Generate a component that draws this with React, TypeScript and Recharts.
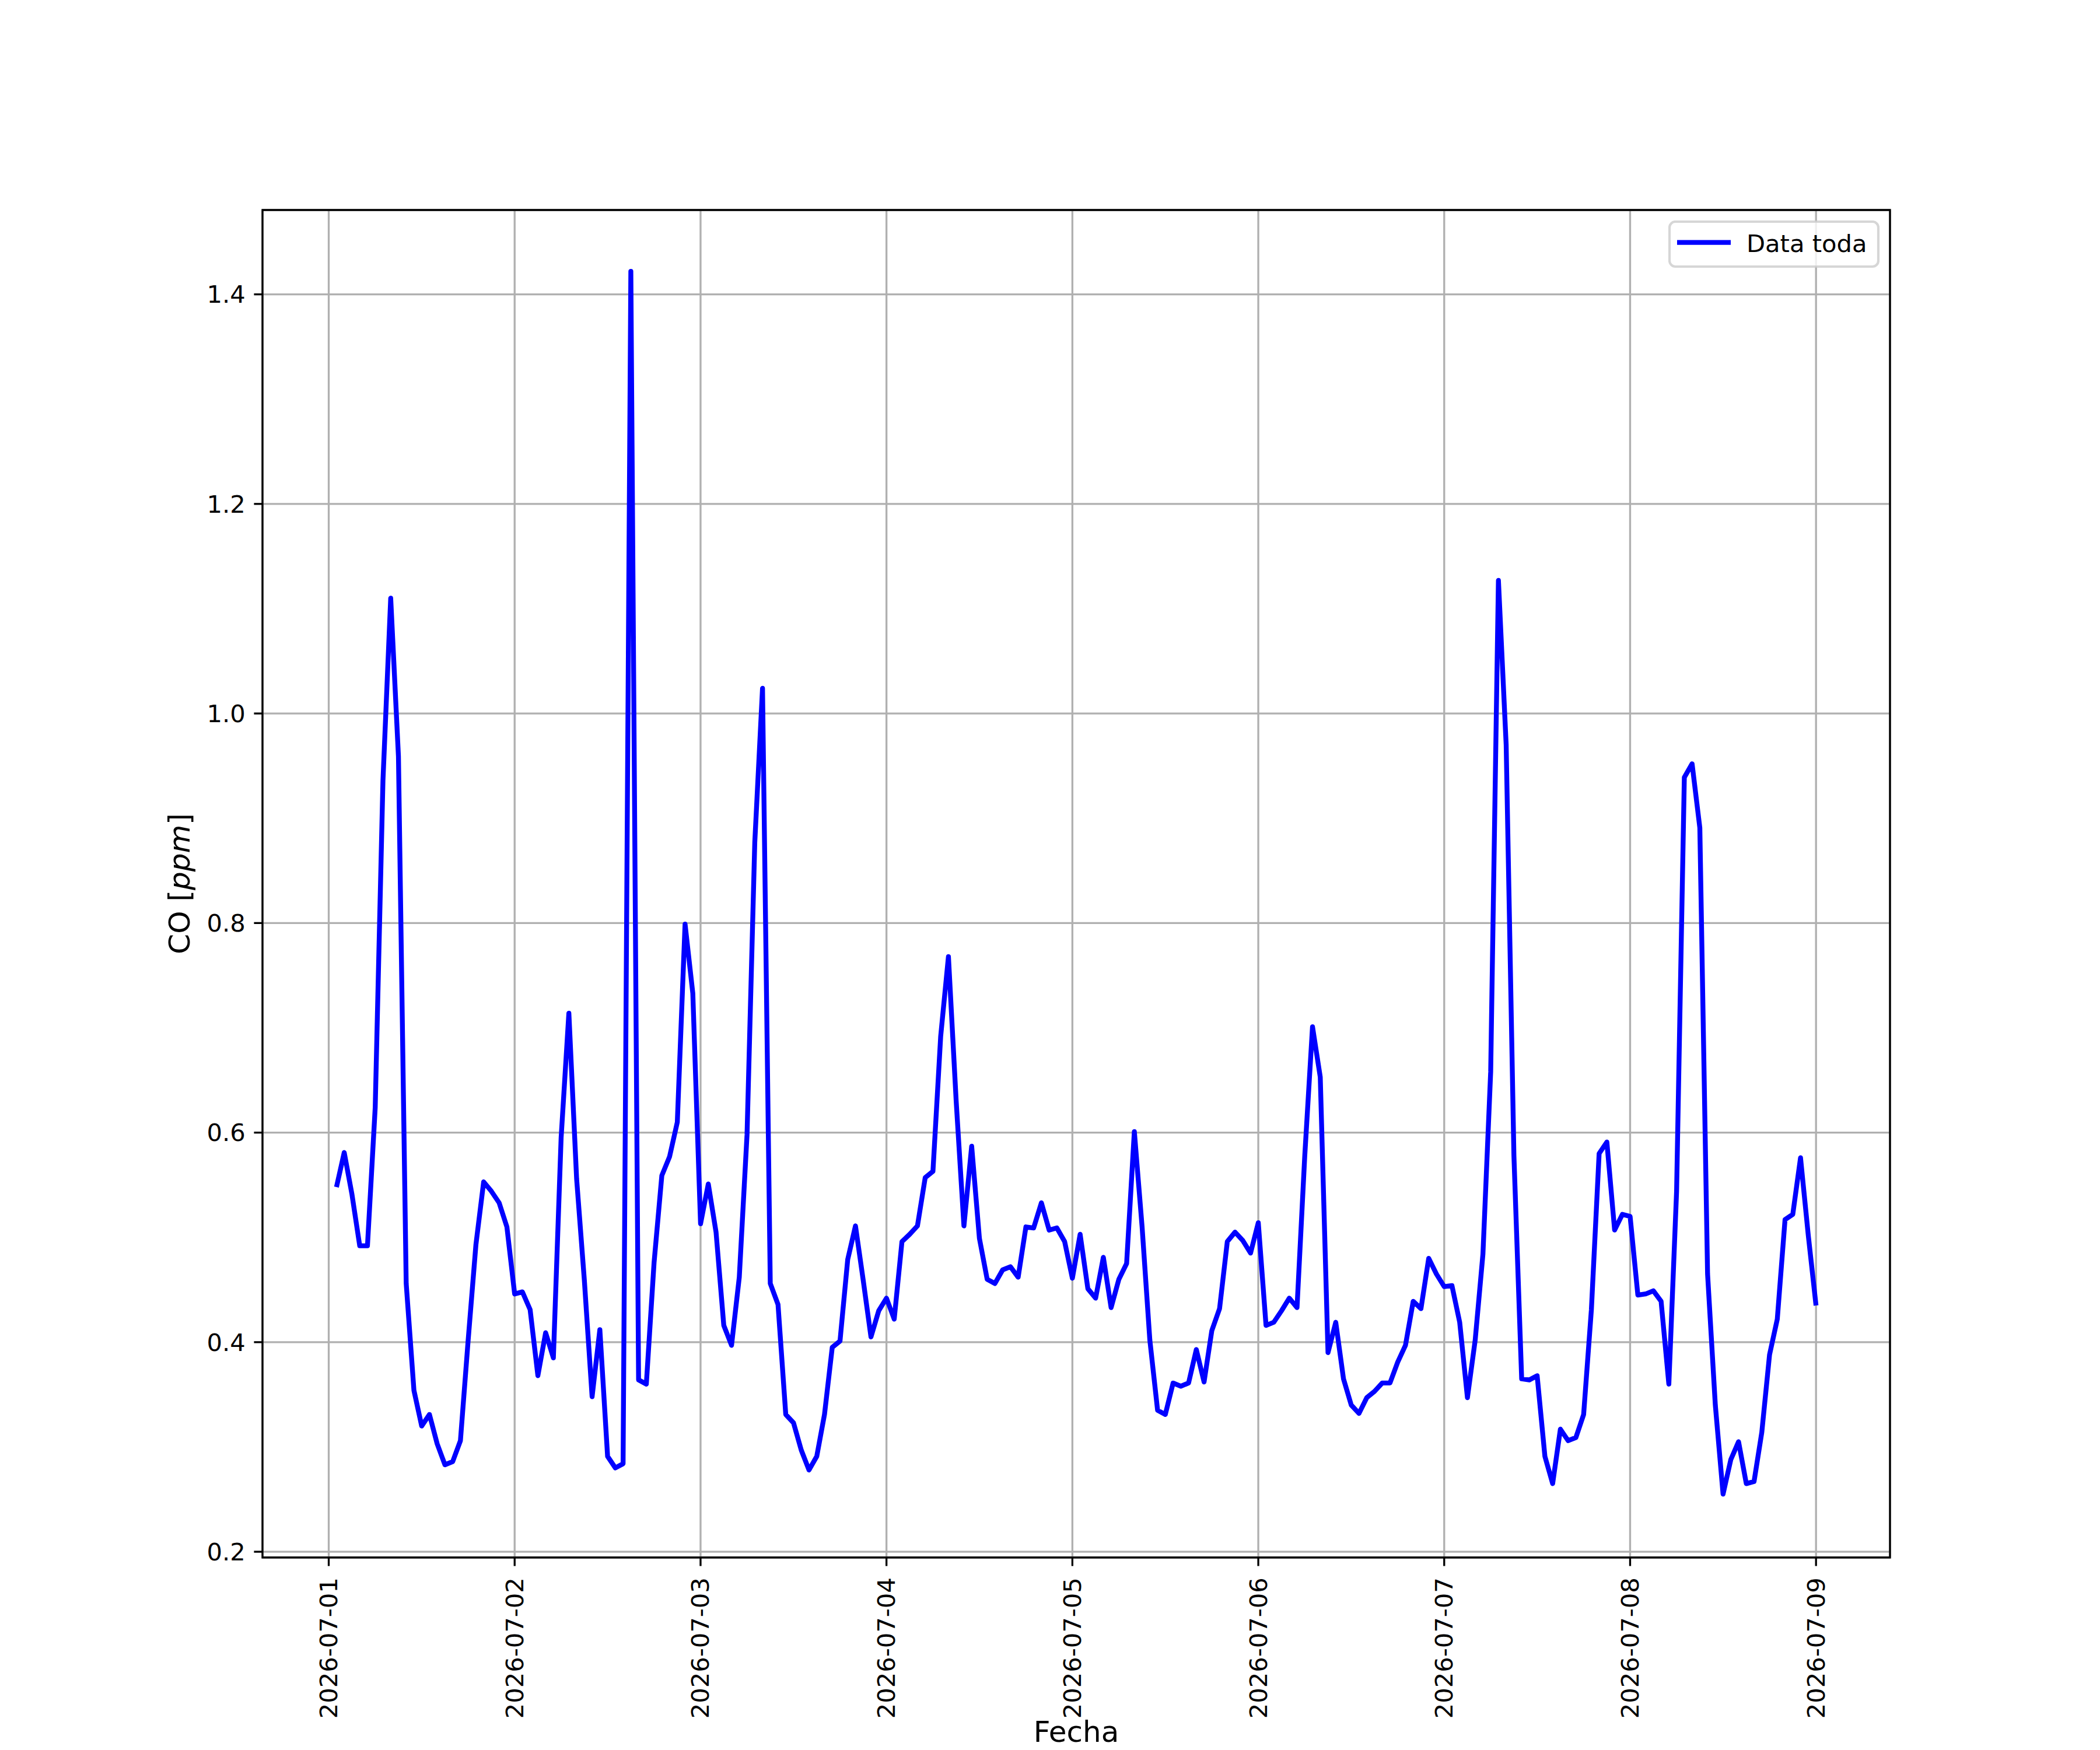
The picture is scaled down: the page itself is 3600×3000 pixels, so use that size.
import React from 'react';
import { LineChart, Line, XAxis, YAxis, CartesianGrid, Legend, ReferenceArea } from 'recharts';

// hours counted from 2026-07-01 00:00, one tick per day
const dayTicks = [0, 24, 48, 72, 96, 120, 144, 168, 192];
const dayLabels = [
  '2026-07-01', '2026-07-02', '2026-07-03', '2026-07-04', '2026-07-05',
  '2026-07-06', '2026-07-07', '2026-07-08', '2026-07-09',
];
const yTicks = [0.2, 0.4, 0.6, 0.8, 1.0, 1.2, 1.4];

// hourly CO (ppm), each block = 01:00 .. 24:00 of that day
const coJul01 = [0.548, 0.581, 0.541, 0.492, 0.492, 0.624, 0.936, 1.110, 0.959, 0.456, 0.354, 0.320,
  0.331, 0.303, 0.283, 0.286, 0.306, 0.402, 0.493, 0.553, 0.544, 0.533, 0.510, 0.446];
const coJul02 = [0.448, 0.431, 0.368, 0.409, 0.385, 0.595, 0.714, 0.556, 0.459, 0.348, 0.412, 0.291,
  0.280, 0.284, 1.422, 0.364, 0.360, 0.476, 0.559, 0.577, 0.610, 0.799, 0.733, 0.513];
const coJul03 = [0.551, 0.505, 0.416, 0.397, 0.462, 0.598, 0.877, 1.024, 0.456, 0.436, 0.331, 0.323,
  0.297, 0.278, 0.291, 0.331, 0.395, 0.401, 0.479, 0.511, 0.459, 0.405, 0.430, 0.442];
const coJul04 = [0.422, 0.496, 0.503, 0.511, 0.557, 0.563, 0.692, 0.768, 0.630, 0.511, 0.587, 0.499,
  0.460, 0.456, 0.469, 0.472, 0.462, 0.510, 0.509, 0.533, 0.507, 0.509, 0.496, 0.461];
const coJul05 = [0.503, 0.451, 0.442, 0.481, 0.433, 0.460, 0.475, 0.601, 0.510, 0.402, 0.335, 0.331,
  0.361, 0.358, 0.361, 0.393, 0.362, 0.411, 0.432, 0.496, 0.505, 0.497, 0.485, 0.514];
const coJul06 = [0.416, 0.419, 0.430, 0.442, 0.433, 0.578, 0.701, 0.653, 0.390, 0.419, 0.365, 0.340,
  0.332, 0.347, 0.353, 0.361, 0.361, 0.381, 0.397, 0.439, 0.432, 0.480, 0.465, 0.453];
const coJul07 = [0.454, 0.419, 0.347, 0.402, 0.484, 0.658, 1.127, 0.970, 0.578, 0.365, 0.364, 0.368,
  0.291, 0.265, 0.317, 0.306, 0.309, 0.331, 0.431, 0.580, 0.591, 0.507, 0.522, 0.520];
const coJul08 = [0.445, 0.446, 0.449, 0.439, 0.360, 0.544, 0.939, 0.952, 0.891, 0.465, 0.340, 0.255,
  0.288, 0.305, 0.265, 0.267, 0.314, 0.388, 0.422, 0.517, 0.522, 0.576, 0.502, 0.435];

const coAll = [...coJul01, ...coJul02, ...coJul03, ...coJul04, ...coJul05, ...coJul06, ...coJul07, ...coJul08];
const data = coAll.map((co, i) => ({ h: i + 1, co }));

const FONT = '"DejaVu Sans", sans-serif';
const TICK_FS = 41.67;
const LABEL_FS = 50;
const PT = 300 / 72;

const XTick = (props: any) => {
  const { x, y, payload } = props;
  const label = dayLabels[dayTicks.indexOf(payload.value)];
  return (
    <text
      transform={`translate(${x},${y + 5}) rotate(-90)`}
      textAnchor="end"
      dominantBaseline="central"
      fontSize={TICK_FS}
      fontFamily={FONT}
      fill="#000"
    >
      {label}
    </text>
  );
};

const YLabel = (props: any) => {
  const vb = props.viewBox || { x: 350, y: 360, width: 100, height: 2310 };
  const cx = vb.x + vb.width - 125;
  const cy = vb.y + vb.height / 2;
  return (
    <text transform={`translate(${cx},${cy}) rotate(-90)`} textAnchor="middle" fontSize={LABEL_FS} fontFamily={FONT} fill="#000">
      CO [<tspan fontStyle="italic">ppm</tspan>]
    </text>
  );
};

const XLabel = (props: any) => {
  const vb = props.viewBox || { x: 450, y: 2670, width: 2790, height: 100 };
  return (
    <text x={vb.x + vb.width / 2} y={vb.y + 316} textAnchor="middle" fontSize={LABEL_FS} fontFamily={FONT} fill="#000">
      Fecha
    </text>
  );
};

const LegendBox = () => (
  <svg width={364} height={82} style={{ display: 'block' }}>
    <rect x={2} y={2} width={358} height={77} rx={10} fill="#fff" fillOpacity={0.8} stroke="#cccccc" strokeOpacity={0.8} strokeWidth={PT} />
    <line x1={15} x2={107} y1={37.7} y2={37.7} stroke="#0000ff" strokeWidth={2 * PT} />
    <text x={134} y={53.7} fontSize={TICK_FS} fontFamily={FONT} fill="#000">Data toda</text>
  </svg>
);

export default function App() {
  return (
    <div style={{ position: 'absolute', left: 0, top: 0, width: 3600, height: 3000, background: '#fff' }}>
      <LineChart width={3600} height={3000} data={data} margin={{ top: 360, right: 360, bottom: 230, left: 350 }}>
        <CartesianGrid stroke="#b0b0b0" strokeWidth={0.8 * PT} />
        <XAxis
          type="number"
          dataKey="h"
          domain={[-8.55, 201.55]}
          ticks={dayTicks}
          allowDataOverflow
          height={100}
          axisLine={false}
          tickLine={{ stroke: '#000', strokeWidth: 0.8 * PT }}
          tickSize={3.5 * PT}
          tickMargin={3.5 * PT}
          tick={<XTick />}
          interval={0}
          label={<XLabel />}
        />
        <YAxis
          type="number"
          domain={[0.1945, 1.4805]}
          ticks={yTicks}
          allowDataOverflow
          width={100}
          axisLine={false}
          tickLine={{ stroke: '#000', strokeWidth: 0.8 * PT }}
          tickSize={3.5 * PT}
          tickMargin={3.5 * PT}
          tickFormatter={(v: number) => v.toFixed(1)}
          tick={{ fontSize: TICK_FS, fontFamily: FONT, fill: '#000' }}
          interval={0}
          label={<YLabel />}
        />
        <ReferenceArea
          x1={-8.55}
          x2={201.55}
          y1={0.1945}
          y2={1.4805}
          fill="none"
          fillOpacity={0}
          stroke="#000"
          strokeWidth={0.8 * PT}
          strokeOpacity={1}
          ifOverflow="visible"
        />
        <Line
          type="linear"
          dataKey="co"
          name="Data toda"
          stroke="#0000ff"
          strokeWidth={2 * PT}
          strokeLinejoin="round"
          dot={false}
          activeDot={false}
          isAnimationActive={false}
        />
        <Legend
          layout="horizontal"
          verticalAlign="middle"
          align="center"
          wrapperStyle={{ position: 'absolute', left: 2860, top: 378, width: 364, height: 82, margin: 0 }}
          content={() => <LegendBox />}
        />
      </LineChart>
    </div>
  );
}
